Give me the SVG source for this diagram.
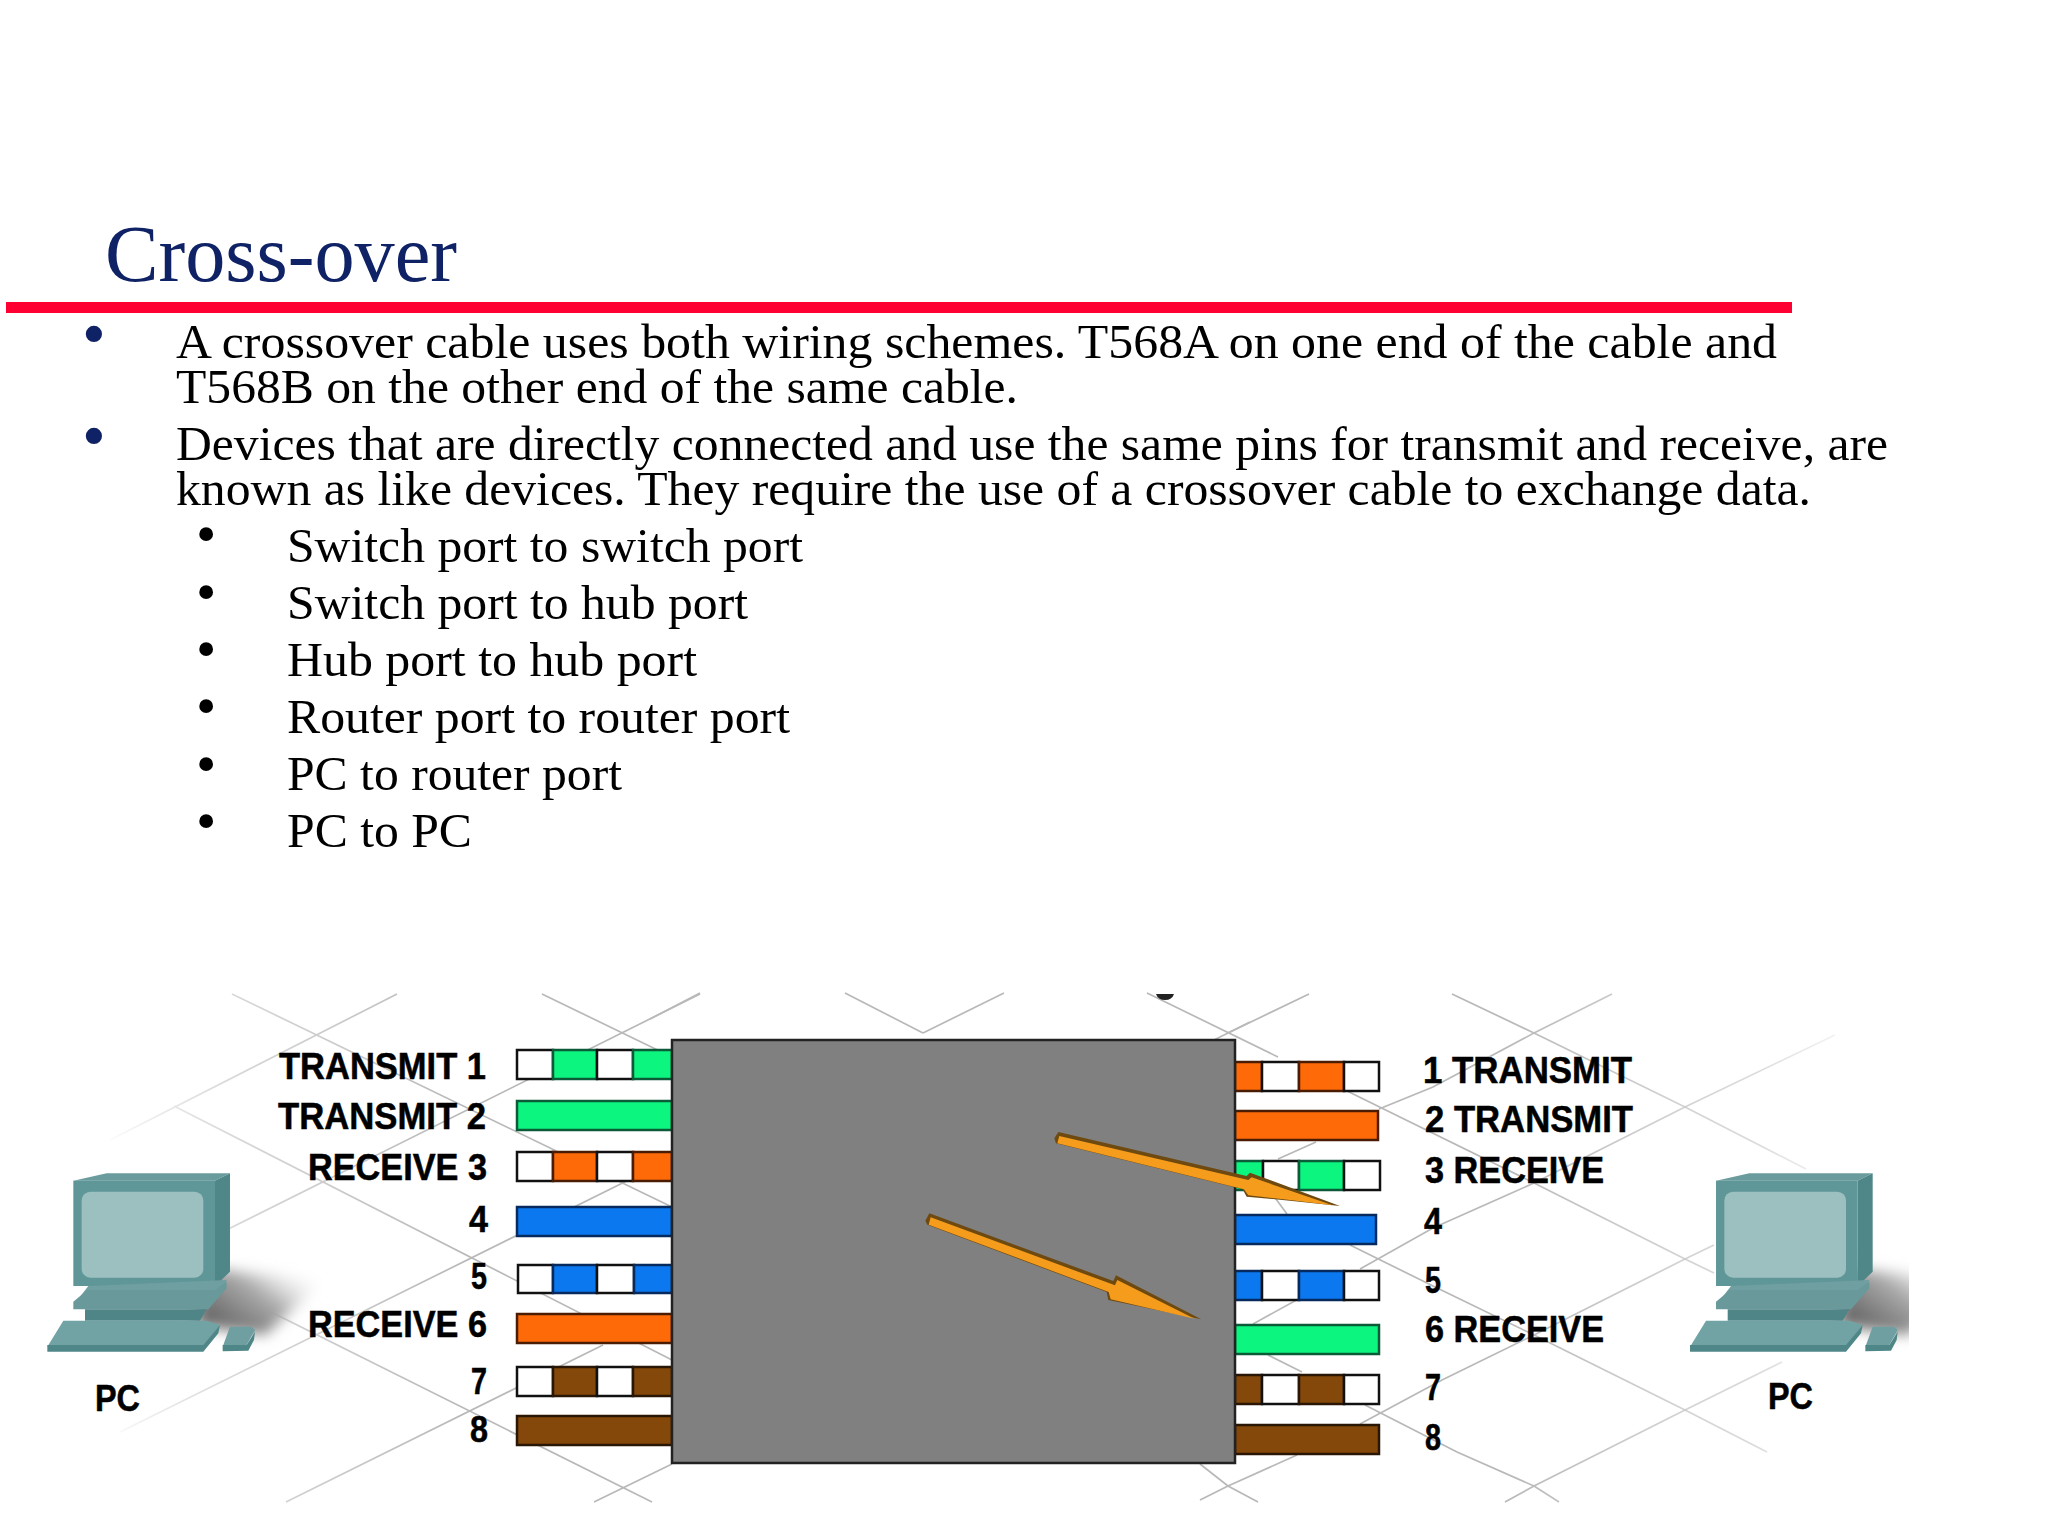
<svg xmlns="http://www.w3.org/2000/svg" xmlns:xlink="http://www.w3.org/1999/xlink" width="2048" height="1537" viewBox="0 0 2048 1537">
<style>
.title{font-family:"Liberation Serif","Times New Roman",serif;font-size:80px;fill:#0f2266}
.body{font-family:"Liberation Serif","Times New Roman",serif;font-size:49px;fill:#000}
.bm{font-family:"Liberation Serif","Times New Roman",serif;font-size:68px;fill:#0f2266}
.bs{font-family:"Liberation Serif","Times New Roman",serif;font-size:58px;fill:#000}
.lab{font-family:"Liberation Sans",Arial,sans-serif;font-weight:700;font-size:36px;fill:#000;stroke:#000;stroke-width:0.5}
.g1{stroke:url(#fade);stroke-width:1.7;fill:none}
.w{fill:#fff;stroke:#111;stroke-width:2.5}
.gr{fill:#0cf57f;stroke:#0b5a38;stroke-width:2.5}
.or{fill:#ff6a08;stroke:#4a1c04;stroke-width:2.5}
.bl{fill:#0b78f0;stroke:#06295e;stroke-width:2.5}
.br{fill:#84480a;stroke:#2a1604;stroke-width:2.5}
.ad{fill:#6e4a10}
.ao{fill:#f59c1c}
</style>
<defs>
<linearGradient id="fade" gradientUnits="userSpaceOnUse" x1="100" y1="0" x2="1900" y2="0">
<stop offset="0" stop-color="#bbb" stop-opacity="0"/>
<stop offset="0.08" stop-color="#ccc" stop-opacity="0.8"/>
<stop offset="0.2" stop-color="#b8b8b8"/>
<stop offset="0.78" stop-color="#b8b8b8"/>
<stop offset="0.92" stop-color="#ccc" stop-opacity="0.7"/>
<stop offset="1" stop-color="#ddd" stop-opacity="0"/>
</linearGradient>
<linearGradient id="sh" x1="0" y1="0.85" x2="1" y2="0.15">
<stop offset="0" stop-color="#555"/><stop offset="0.55" stop-color="#aaa"/><stop offset="1" stop-color="#fff" stop-opacity="0"/>
</linearGradient>
<filter id="blur" x="-30%" y="-30%" width="160%" height="160%"><feGaussianBlur stdDeviation="7"/></filter>
<clipPath id="clipR"><rect x="1700" y="1150" width="209" height="260"/></clipPath>
<g id="pc-art" transform="translate(30,1150) scale(0.3333)">
<polygon points="130,92 230,70 600,70 555,92" fill="#6a9c9d"/>
<polygon points="555,92 600,70 600,365 555,408" fill="#4f8688"/>
<rect x="130" y="92" width="425" height="316" fill="#5f9697"/>
<rect x="155" y="125" width="365" height="258" rx="26" fill="#9cc0bf"/>
<polygon points="175,408 590,390 575,425 150,440" fill="#6f9fa0"/>
<polygon points="130,455 172,420 555,420 590,395 590,415 535,478 130,478" fill="#69999a"/>
<polygon points="165,478 530,478 510,512 165,512" fill="#4f8587"/>
<polygon points="100,512 530,512 570,525 520,590 52,590" fill="#72a3a4"/>
<polygon points="52,585 520,585 570,525 565,550 520,605 52,605" fill="#4f8688"/>
<polygon points="600,530 665,530 675,540 650,585 580,585" fill="#6f9fa0"/>
<polygon points="578,585 650,585 675,545 672,570 655,602 578,604" fill="#4f8688"/>
</g>
</defs>
<rect width="2048" height="1537" fill="#fff"/>

<g id="slide-title">
<text class="title" x="105" y="281" textLength="352" lengthAdjust="spacingAndGlyphs">Cross-over</text>
<rect x="6" y="302" width="1786" height="11" fill="#ff0033"/>
</g>

<g id="slide-text">
<text class="bm" x="82" y="356">•</text>
<text class="body" x="176" y="358" textLength="1601" lengthAdjust="spacingAndGlyphs">A crossover cable uses both wiring schemes. T568A on one end of the cable and</text>
<text class="body" x="176" y="403" textLength="842" lengthAdjust="spacingAndGlyphs">T568B on the other end of the same cable.</text>
<text class="bm" x="82" y="458">•</text>
<text class="body" x="176" y="460" textLength="1712" lengthAdjust="spacingAndGlyphs">Devices that are directly connected and use the same pins for transmit and receive, are</text>
<text class="body" x="176" y="505" textLength="1635" lengthAdjust="spacingAndGlyphs">known as like devices. They require the use of a crossover cable to exchange data.</text>
<text class="bs" x="196" y="553">•</text>
<text class="body" x="287" y="562" textLength="516" lengthAdjust="spacingAndGlyphs">Switch port to switch port</text>
<text class="bs" x="196" y="611">•</text>
<text class="body" x="287" y="619" textLength="461" lengthAdjust="spacingAndGlyphs">Switch port to hub port</text>
<text class="bs" x="196" y="668">•</text>
<text class="body" x="287" y="676" textLength="410" lengthAdjust="spacingAndGlyphs">Hub port to hub port</text>
<text class="bs" x="196" y="725">•</text>
<text class="body" x="287" y="733" textLength="503" lengthAdjust="spacingAndGlyphs">Router port to router port</text>
<text class="bs" x="196" y="783">•</text>
<text class="body" x="287" y="790" textLength="335" lengthAdjust="spacingAndGlyphs">PC to router port</text>
<text class="bs" x="196" y="840">•</text>
<text class="body" x="287" y="847" textLength="185" lengthAdjust="spacingAndGlyphs">PC to PC</text>
</g>

<g id="connectors">
<path class="g1" d="M232 994L672 1207M397 994L110 1140M700 994L150 1268M665 1162L120 1432M603 1345L286 1502M174 1106L672 1360M542 994L672 1057M241 1297L652 1502M672 1464L594 1502"/>
<path class="g1" d="M845 993L923 1033M1004 993L923 1033M1147 993L1278 1057M1250 1022L1228 1033M700 993L650 1019"/>
<path class="g1" d="M1345 1090L1534 1183L1685 1259L1714 1273M1273 1195L1287 1214M1350 1245L1433 1286L1534 1335L1685 1410L1767 1452M1452 994L1534 1033L1685 1107L1806 1169M1268 1355L1302 1372M1365 1405L1457 1452L1534 1486L1559 1502M1200 1464L1228 1486L1258 1502"/>
<path class="g1" d="M1309 994L1228 1033L1200 1047M1612 994L1534 1033L1433 1087L1379 1109M1316 1142L1278 1159M1835 1035L1685 1107L1534 1183L1433 1228L1360 1269M1302 1297L1253 1324M1714 1245L1685 1259L1534 1335L1442 1380L1360 1424M1297 1455L1228 1486L1200 1500M1782 1362L1685 1410L1534 1486L1505 1502"/>
<path d="M1156 994h18q-2 6-9 6q-7 0-9-6z" fill="#222"/>
</g>

<g id="pc-left">
<polygon points="205,1268 325,1280 265,1335 195,1325" fill="url(#sh)" filter="url(#blur)"/>
<use xlink:href="#pc-art"/>
<text class="lab" x="95" y="1411" textLength="45" lengthAdjust="spacingAndGlyphs">PC</text>
</g>
<g id="pc-right">
<g clip-path="url(#clipR)"><g transform="translate(1642.7,0)"><polygon points="205,1268 325,1280 265,1335 195,1325" fill="url(#sh)" filter="url(#blur)"/></g></g>
<use xlink:href="#pc-art" transform="translate(1642.7,0)"/>
<text class="lab" x="1768" y="1409" textLength="45" lengthAdjust="spacingAndGlyphs">PC</text>
</g>

<g id="left-wires">
<rect class="w" x="517" y="1050" width="36" height="29"/><rect class="gr" x="553" y="1050" width="44" height="29"/><rect class="w" x="597" y="1050" width="36" height="29"/><rect class="gr" x="633" y="1050" width="39" height="29"/>
<rect class="gr" x="517" y="1101" width="155" height="29"/>
<rect class="w" x="517" y="1152" width="36" height="29"/><rect class="or" x="553" y="1152" width="44" height="29"/><rect class="w" x="597" y="1152" width="36" height="29"/><rect class="or" x="633" y="1152" width="39" height="29"/>
<rect class="bl" x="517" y="1207" width="155" height="29"/>
<rect class="w" x="518" y="1265" width="35" height="28"/><rect class="bl" x="553" y="1265" width="44" height="28"/><rect class="w" x="597" y="1265" width="37" height="28"/><rect class="bl" x="634" y="1265" width="38" height="28"/>
<rect class="or" x="517" y="1314" width="155" height="29"/>
<rect class="w" x="517" y="1367" width="36" height="29"/><rect class="br" x="553" y="1367" width="44" height="29"/><rect class="w" x="597" y="1367" width="36" height="29"/><rect class="br" x="633" y="1367" width="39" height="29"/>
<rect class="br" x="517" y="1416" width="155" height="29"/>
</g>

<g id="right-wires">
<rect class="or" x="1235" y="1062" width="27" height="29"/><rect class="w" x="1262" y="1062" width="37" height="29"/><rect class="or" x="1299" y="1062" width="45" height="29"/><rect class="w" x="1344" y="1062" width="35" height="29"/>
<rect class="or" x="1235" y="1111" width="143" height="29"/>
<rect class="gr" x="1235" y="1161" width="28" height="29"/><rect class="w" x="1263" y="1161" width="36" height="29"/><rect class="gr" x="1299" y="1161" width="45" height="29"/><rect class="w" x="1344" y="1161" width="36" height="29"/>
<rect class="bl" x="1235" y="1215" width="141" height="29"/>
<rect class="bl" x="1235" y="1271" width="27" height="29"/><rect class="w" x="1262" y="1271" width="37" height="29"/><rect class="bl" x="1299" y="1271" width="45" height="29"/><rect class="w" x="1344" y="1271" width="35" height="29"/>
<rect class="gr" x="1235" y="1325" width="144" height="29"/>
<rect class="br" x="1235" y="1375" width="27" height="29"/><rect class="w" x="1262" y="1375" width="37" height="29"/><rect class="br" x="1299" y="1375" width="45" height="29"/><rect class="w" x="1344" y="1375" width="35" height="29"/>
<rect class="br" x="1235" y="1425" width="144" height="29"/>
</g>

<g id="left-labels">
<text class="lab" x="279" y="1079" textLength="207" lengthAdjust="spacingAndGlyphs">TRANSMIT 1</text>
<text class="lab" x="278" y="1129" textLength="208" lengthAdjust="spacingAndGlyphs">TRANSMIT 2</text>
<text class="lab" x="308" y="1180" textLength="179" lengthAdjust="spacingAndGlyphs">RECEIVE 3</text>
<text class="lab" x="469" y="1232" textLength="19" lengthAdjust="spacingAndGlyphs">4</text>
<text class="lab" x="471" y="1289" textLength="16" lengthAdjust="spacingAndGlyphs">5</text>
<text class="lab" x="308" y="1337" textLength="179" lengthAdjust="spacingAndGlyphs">RECEIVE 6</text>
<text class="lab" x="471" y="1394" textLength="16" lengthAdjust="spacingAndGlyphs">7</text>
<text class="lab" x="470" y="1442" textLength="18" lengthAdjust="spacingAndGlyphs">8</text>
</g>

<g id="right-labels">
<text class="lab" x="1423" y="1083" textLength="209" lengthAdjust="spacingAndGlyphs">1 TRANSMIT</text>
<text class="lab" x="1425" y="1132" textLength="208" lengthAdjust="spacingAndGlyphs">2 TRANSMIT</text>
<text class="lab" x="1425" y="1183" textLength="179" lengthAdjust="spacingAndGlyphs">3 RECEIVE</text>
<text class="lab" x="1424" y="1234" textLength="18" lengthAdjust="spacingAndGlyphs">4</text>
<text class="lab" x="1425" y="1293" textLength="16" lengthAdjust="spacingAndGlyphs">5</text>
<text class="lab" x="1425" y="1342" textLength="179" lengthAdjust="spacingAndGlyphs">6 RECEIVE</text>
<text class="lab" x="1425" y="1400" textLength="16" lengthAdjust="spacingAndGlyphs">7</text>
<text class="lab" x="1425" y="1450" textLength="16" lengthAdjust="spacingAndGlyphs">8</text>
</g>

<g id="crossover-box">
<rect x="672" y="1040" width="563" height="423" fill="#808080" stroke="#222" stroke-width="2.5"/>
</g>

<g id="arrows" transform="translate(900,1100) scale(0.3333)">
<polygon class="ad" points="463,115 475,96 1040,228 1050,218 1320,318 1170,302 1040,290 1028,268 468,130"/>
<polygon class="ao" points="478,108 1045,240 1055,232 1298,316 1170,300 1045,286 1032,268 472,130"/>
<polygon class="ad" points="76,362 88,340 640,543 648,526 904,658 625,600 620,576 82,374"/>
<polygon class="ao" points="92,352 645,556 652,540 884,656 632,598 626,576 86,374"/>
</g>
</svg>
